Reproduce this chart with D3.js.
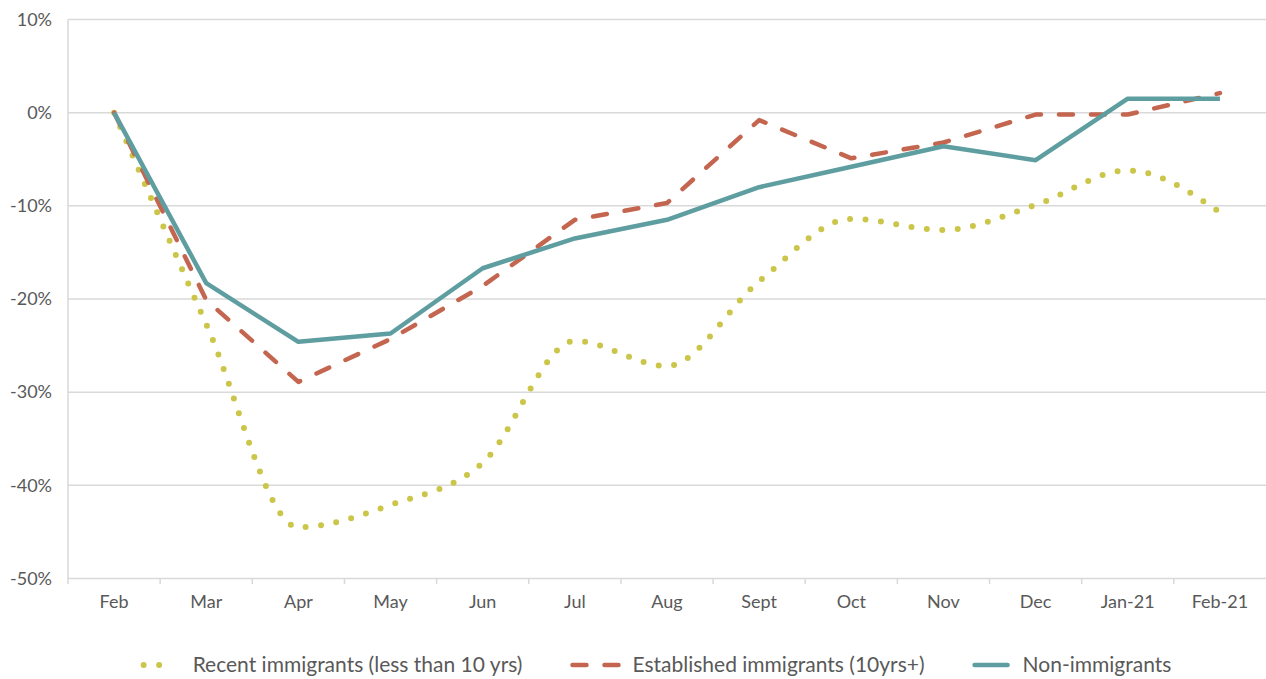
<!DOCTYPE html>
<html>
<head>
<meta charset="utf-8">
<script src="https://cdn.jsdelivr.net/npm/d3@7"></script>
<style>
  body { margin: 0; background: #fff; }
  svg { display: block; font-family: Lato, "Open Sans", sans-serif; }
  .tick text { fill: #595959; }
</style>
</head>
<body>
<svg id="chart" width="1266" height="679"></svg>
<script>
// data
var months = ['Feb', 'Mar', 'Apr', 'May', 'Jun', 'Jul', 'Aug', 'Sept', 'Oct', 'Nov', 'Dec', 'Jan-21', 'Feb-21'];
var recentImmigrants = [0, -22.7, -44.5, -42.1, -37.6, -24.5, -27.2, -18.1, -11.4, -12.6, -9.9, -6.2, -10.7];
var establishedImmigrants = [0, -20.1, -28.9, -24.3, -18.6, -11.5, -9.7, -0.8, -4.9, -3.2, -0.2, -0.2, 2.1];
var nonImmigrants = [0, -18.3, -24.6, -23.7, -16.7, -13.5, -11.5, -8.0, -5.8, -3.6, -5.1, 1.5, 1.5];
var yTicks = [-50, -40, -30, -20, -10, 0, 10];
var seriesNames = ['Recent immigrants (less than 10 yrs)', 'Established immigrants (10yrs+)', 'Non-immigrants'];

// Chart Setup
var width = 1266, height = 679;
var margin = { top: 19.5, right: 0, bottom: 100.5, left: 68 };
var textColor = '#595959';
var gridColor = '#d9d9d9';

var svg = d3.select('#chart');

var xScale = d3.scaleBand()
  .domain(months)
  .range([margin.left, width - margin.right])
  .paddingInner(0).paddingOuter(0);
var yScale = d3.scaleLinear()
  .domain([-50, 10])
  .range([height - margin.bottom, margin.top]);

var series = [
  { name: seriesNames[0], values: recentImmigrants, color: '#cbc64a', width: 6, dash: '0,15.5',
    curve: d3.curveMonotoneX, swatch: 31, gap: 18 },
  { name: seriesNames[1], values: establishedImmigrants, color: '#c4664f', width: 4.5, dash: '14,18',
    curve: d3.curveLinear, swatch: 46, gap: 14 },
  { name: seriesNames[2], values: nonImmigrants, color: '#5f9ea0', width: 4.5, dash: null,
    curve: d3.curveLinear, swatch: 33, gap: 15 }
];

// Gridlines
svg.append('g')
  .selectAll('line')
  .data(yTicks)
  .enter()
  .append('line')
  .attr('x1', margin.left)
  .attr('x2', width - margin.right)
  .attr('y1', function(d) { return yScale(d); })
  .attr('y2', function(d) { return yScale(d); })
  .attr('stroke', gridColor)
  .attr('stroke-width', 1.5);

// left axis line + category ticks
var axisBottomY = yScale(-50);
svg.append('line')
  .attr('x1', margin.left).attr('x2', margin.left)
  .attr('y1', yScale(10)).attr('y2', axisBottomY + 5.5)
  .attr('stroke', gridColor)
  .attr('stroke-width', 1.5);
svg.append('g')
  .selectAll('line')
  .data(months.slice(1))
  .enter()
  .append('line')
  .attr('x1', function(d) { return xScale(d); })
  .attr('x2', function(d) { return xScale(d); })
  .attr('y1', axisBottomY)
  .attr('y2', axisBottomY + 5.5)
  .attr('stroke', gridColor)
  .attr('stroke-width', 1.5);

// X-Axis labels
var xAxis = d3.axisBottom(xScale).tickSize(0).tickPadding(17);
svg.append('g')
  .attr('transform', 'translate(0,' + axisBottomY + ')')
  .call(xAxis)
  .call(function(g) { g.select('.domain').remove(); })
  .selectAll('text')
  .style('font-size', '18px')
  .style('font-family', 'Lato, sans-serif');

// Y-Axis labels
var yAxis = d3.axisLeft(yScale)
  .tickValues(yTicks)
  .tickFormat(function(d) { return d + '%'; })
  .tickSize(0)
  .tickPadding(16);
svg.append('g')
  .attr('transform', 'translate(' + margin.left + ',0)')
  .call(yAxis)
  .call(function(g) { g.select('.domain').remove(); })
  .selectAll('text')
  .style('font-size', '18px')
  .style('font-family', 'Lato, sans-serif');

// Lines
series.forEach(function(s) {
  var line = d3.line()
    .x(function(d, i) { return xScale(months[i]) + xScale.bandwidth() / 2; })
    .y(function(d) { return yScale(d); })
    .curve(s.curve);
  svg.append('path')
    .datum(s.values)
    .attr('d', line)
    .attr('fill', 'none')
    .attr('stroke', s.color)
    .attr('stroke-width', s.width)
    .attr('stroke-linecap', s.dash ? 'round' : 'butt')
    .attr('stroke-linejoin', 'round')
    .attr('stroke-dasharray', s.dash);
});

// Legend
var legendY = 665;
var itemGap = 50;
var items = svg.append('g')
  .selectAll('g')
  .data(series)
  .enter()
  .append('g');
items.append('line')
  .attr('x1', 0)
  .attr('x2', function(d) { return d.swatch; })
  .attr('y1', legendY)
  .attr('y2', legendY)
  .attr('stroke', function(d) { return d.color; })
  .attr('stroke-width', function(d) { return d.width; })
  .attr('stroke-linecap', 'round')
  .attr('stroke-dasharray', function(d) { return d.dash; });
items.append('text')
  .attr('x', function(d) { return d.swatch + d.gap; })
  .attr('y', legendY)
  .attr('dy', '0.35em')
  .attr('fill', textColor)
  .style('font-size', '21px')
  .text(function(d) { return d.name; });

var widths = [];
items.each(function(d) {
  widths.push(d.swatch + d.gap + d3.select(this).select('text').node().getComputedTextLength());
});
var total = d3.sum(widths) + itemGap * (widths.length - 1);
var offset = 0;
var startX = 657.5 - total / 2;
items.attr('transform', function(d, i) {
  var x = startX + offset;
  offset += widths[i] + itemGap;
  return 'translate(' + x + ',0)';
});
</script>
</body>
</html>
